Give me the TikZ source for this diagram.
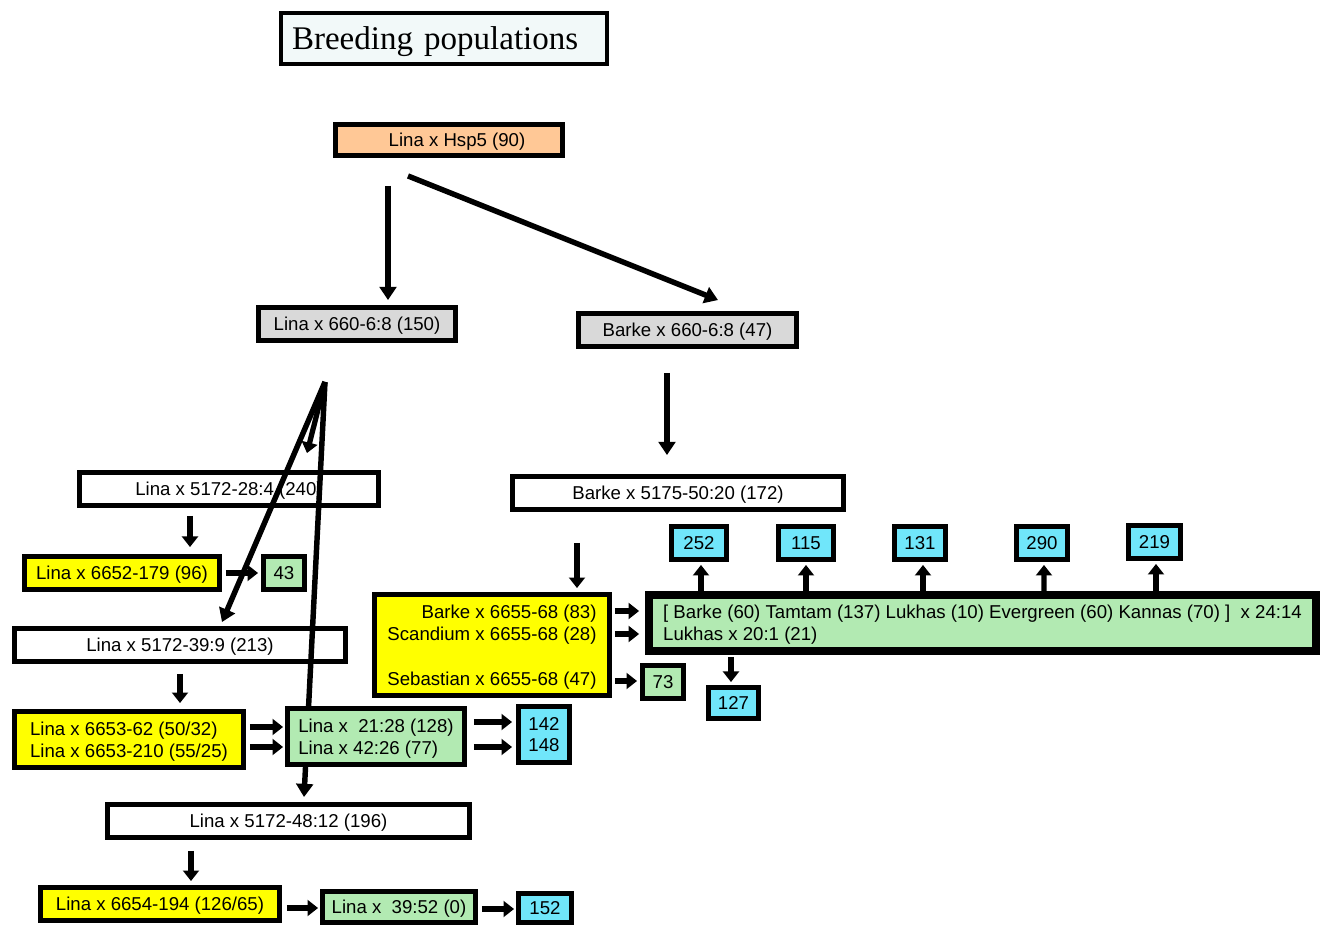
\documentclass[tikz,border=0pt]{standalone}
\usepackage{fontspec}
\setmainfont{Liberation Sans}
\newfontfamily\titlefont{Liberation Serif}
\usetikzlibrary{arrows.meta}
\definecolor{peach}{RGB}{255,200,150}
\definecolor{lgray}{RGB}{217,217,217}
\definecolor{ygreen}{RGB}{255,255,0}
\definecolor{pgreen}{RGB}{178,234,178}
\definecolor{pcyan}{RGB}{112,230,250}
\definecolor{ptitle}{RGB}{242,249,249}
\tikzset{
  box/.style={draw, line width=2.8pt, inner sep=0pt, text depth=0pt, font=\fontsize{10.6}{12.5}\selectfont},
  arr/.style={line width=3pt, -{Triangle[length=6pt,width=9pt]}},
  larr/.style={line width=3.1pt, -{Triangle[length=7.5pt,width=9.5pt]}}
}
\begin{document}
\begin{tikzpicture}[x=0.02cm,y=-0.02cm]
\useasboundingbox (0,0) rectangle (1320,925);
% title
\node[draw, line width=2.3pt, fill=ptitle, inner xsep=0.22cm, inner ysep=0pt, text width=6.08cm, text depth=0pt, align=left, minimum height=1.02cm, font=\titlefont\fontsize{18.8}{22}\selectfont] (title) at (444,38.5) {Breeding populations};
% top
\node[box, fill=peach, minimum width=4.54cm, minimum height=0.62cm] (hsp5) at (449,140) {\hspace*{0.32cm}Lina x Hsp5 (90)};
\node[box, fill=lgray, minimum width=3.94cm, minimum height=0.66cm] (l660) at (357,324) {Lina x 660-6:8 (150)};
\node[box, fill=lgray, minimum width=4.36cm, minimum height=0.66cm] (b660) at (687.5,330) {Barke x 660-6:8 (47)};
% left branch
\node[box, fill=white, minimum width=5.98cm, minimum height=0.66cm] (l28) at (229,489) {Lina x 5172-28:4 (240)};
\node[box, fill=ygreen, minimum width=3.90cm, minimum height=0.66cm] (y6652) at (122,573) {Lina x 6652-179 (96)};
\node[box, fill=pgreen, minimum width=0.82cm, minimum height=0.66cm] (g43) at (284,573) {43};
\node[box, fill=white, minimum width=6.62cm, minimum height=0.66cm] (l39) at (180,645) {Lina x 5172-39:9 (213)};
\node[box, fill=ygreen, minimum width=4.58cm, minimum height=1.12cm, align=left] (y6653) at (129,739.5) {Lina x 6653-62 (50/32)\\Lina x 6653-210 (55/25)};
\node[box, fill=white, minimum width=7.24cm, minimum height=0.66cm] (l48) at (288.5,821) {Lina x 5172-48:12 (196)};
% long arrows from Lina x 660-6:8 (the long one passes behind the green box)
\draw[larr] ([shift={(-32,39)}]l660.south) -- ([shift={(42,-4)}]l39.north);
\draw[arr] ([shift={(-32,39)}]l660.south) -- ([shift={(78,-17)}]l28.north);
\draw[larr] ([shift={(-32,39)}]l660.south) -- ([shift={(15.5,-5)}]l48.north);
\node[box, fill=pgreen, minimum width=3.54cm, minimum height=1.12cm, align=left] (g2128) at (376,736.5) {Lina x~ 21:28 (128)\\Lina x 42:26 (77)};
\node[box, fill=pcyan, minimum width=1.02cm, minimum height=1.12cm, align=center] (c142) at (544,734.5) {142\\148};
\node[box, fill=ygreen, minimum width=4.78cm, minimum height=0.66cm] (y6654) at (160,904) {Lina x 6654-194 (126/65)};
\node[box, fill=pgreen, minimum width=3.06cm, minimum height=0.62cm] (g3952) at (399,907) {Lina x~ 39:52 (0)};
\node[box, fill=pcyan, minimum width=1.06cm, minimum height=0.58cm] (c152) at (545,908) {152};
% right branch
\node[box, fill=white, minimum width=6.62cm, minimum height=0.66cm] (b5175) at (678,493) {Barke x 5175-50:20 (172)};
\node[box, fill=ygreen, minimum width=4.70cm, minimum height=2.02cm, align=right] (ybarke) at (492,645) {Barke x 6655-68 (83)\\Scandium x 6655-68 (28)\\[12.9pt]Sebastian x 6655-68 (47)};
\node[box, line width=4.5pt, fill=pgreen, minimum width=13.34cm, minimum height=1.12cm, align=left] (gbig) at (982.5,623) {[ Barke (60) Tamtam (137) Lukhas (10) Evergreen (60) Kannas (70) ]~ x 24:14\\Lukhas x 20:1 (21)};
\node[box, fill=pgreen, minimum width=0.82cm, minimum height=0.66cm] (g73) at (663,682) {73};
\node[box, fill=pcyan, minimum width=1.0cm, minimum height=0.62cm] (c127) at (733.5,703) {127};
\node[box, fill=pcyan, minimum width=1.1cm, minimum height=0.66cm] (c252) at (699,543) {252};
\node[box, fill=pcyan, minimum width=1.1cm, minimum height=0.66cm] (c115) at (806,543) {115};
\node[box, fill=pcyan, minimum width=1.02cm, minimum height=0.66cm] (c131) at (920,543) {131};
\node[box, fill=pcyan, minimum width=1.02cm, minimum height=0.66cm] (c290) at (1042,543) {290};
\node[box, fill=pcyan, minimum width=1.04cm, minimum height=0.66cm] (c219) at (1154.5,542) {219};
% long arrows
\draw[larr] ([shift={(-61,28)}]hsp5.south) -- ([shift={(31,-5)}]l660.north);
\draw[larr] ([shift={(-41,18)}]hsp5.south) -- ([shift={(30.5,-11)}]b660.north);
\draw[larr] ([shift={(-20.5,24)}]b660.south) -- ([shift={(-11,-19)}]b5175.north);
% short arrows
\draw[arr] ([shift={(-39,8)}]l28.south) -- ([shift={(68,-7)}]y6652.north);
\draw[arr] ([shift={(4,0)}]y6652.east) -- ([shift={(-3,0)}]g43.west);
\draw[arr] ([shift={(0,10)}]l39.south) -- ([shift={(51,-6)}]y6653.north);
\draw[arr] ([shift={(4,-12.5)}]y6653.east) -- ([shift={(-2,-9.5)}]g2128.west);
\draw[arr] ([shift={(4,7.5)}]y6653.east) -- ([shift={(-2,10.5)}]g2128.west);
\draw[arr] ([shift={(7,-14.5)}]g2128.east) -- ([shift={(-4,-12.5)}]c142.west);
\draw[arr] ([shift={(7,10.5)}]g2128.east) -- ([shift={(-4,12.5)}]c142.west);
\draw[arr] ([shift={(-97.5,11)}]l48.south) -- ([shift={(31,-4)}]y6654.north);
\draw[arr] ([shift={(5,4)}]y6654.east) -- ([shift={(-2,1)}]g3952.west);
\draw[arr] ([shift={(4,2)}]g3952.east) -- ([shift={(-2,1)}]c152.west);
\draw[arr] ([shift={(-101,31)}]b5175.south) -- ([shift={(85,-4)}]ybarke.north);
\draw[arr] ([shift={(3,-34)}]ybarke.east) -- ([shift={(-6,-12)}]gbig.west);
\draw[arr] ([shift={(3,-11)}]ybarke.east) -- ([shift={(-6,11)}]gbig.west);
\draw[arr] ([shift={(3,36)}]ybarke.east) -- ([shift={(-3,-1)}]g73.west);
\draw[arr] ([shift={(-281.5,0)}]gbig.north) -- ([shift={(2,3)}]c252.south);
\draw[arr] ([shift={(-176.5,0)}]gbig.north) -- ([shift={(0,3)}]c115.south);
\draw[arr] ([shift={(-59.5,0)}]gbig.north) -- ([shift={(3,3)}]c131.south);
\draw[arr] ([shift={(61.5,0)}]gbig.north) -- ([shift={(2,3)}]c290.south);
\draw[arr] ([shift={(173.5,0)}]gbig.north) -- ([shift={(1.5,3)}]c219.south);
\draw[arr] ([shift={(-251.5,2)}]gbig.south) -- ([shift={(-2.5,-3)}]c127.north);
\end{tikzpicture}
\end{document}
